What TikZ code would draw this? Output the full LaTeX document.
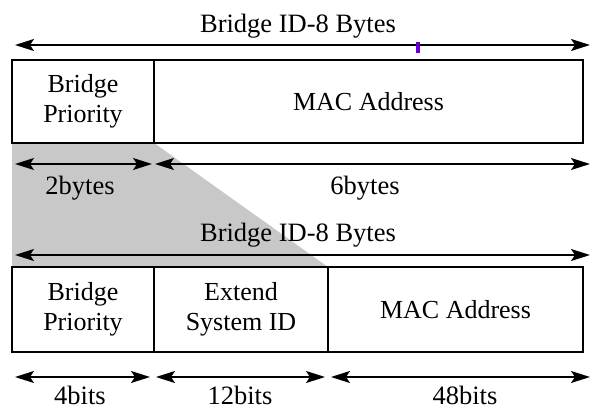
\documentclass[tikz,border=0pt]{standalone}
\usepackage{fontspec}
\setmainfont{Liberation Serif}
\usetikzlibrary{arrows.meta}
\definecolor{wedgegray}{RGB}{200,200,200}
\definecolor{penmark}{RGB}{102,0,204}
\begin{document}
\begin{tikzpicture}[x=1pt,y=-1pt,
  field/.style={rectangle,draw,line width=1.5pt,fill=white,minimum height=83pt,inner sep=0pt,align=center,font=\fontsize{26}{30}\selectfont},
  dim/.style={line width=1.7pt,{Stealth[length=19pt,width=12pt,inset=4pt]}-{Stealth[length=19pt,width=12pt,inset=4pt]}},
  label/.style={inner sep=0pt,anchor=base,font=\fontsize{26.5}{30}\selectfont}]
  \useasboundingbox (0,0) rectangle (610,409);

  % grey wedge between the two layouts
  \fill[wedgegray] (12,143) -- (154,143) -- (328,267) -- (12,267) -- cycle;

  % old layout
  \node[label] at (298,33) (title1) {Bridge ID-8 Bytes};
  \node[field,minimum width=142pt] at (83,101.5) (prio1) {Bridge\\Priority};
  \node[field,minimum width=429pt] at (368.5,101.5) (mac1) {MAC Address};
  \node[label] at (80,194) (len1) {2bytes};
  \node[label] at (365,194) (len2) {6bytes};

  % new layout
  \node[label] at (298,241) (title2) {Bridge ID-8 Bytes};
  \node[field,minimum width=142pt,minimum height=85pt] at (83,309.5) (prio2) {Bridge\\Priority};
  \node[field,minimum width=174pt,minimum height=85pt] at (241,309.5) (ext2) {Extend\\System ID};
  \node[field,minimum width=255pt,minimum height=85pt] at (455.5,309.5) (mac2) {MAC Address};
  \node[label] at (80,404) (len3) {4bits};
  \node[label] at (240,404) (len4) {12bits};
  \node[label] at (465,404) (len5) {48bits};

  \coordinate (t1l) at (15,45);   \coordinate (t1r) at (590,45);
  \coordinate (a1l) at (15,164);  \coordinate (a1r) at (152,164);
  \coordinate (a2l) at (155,164); \coordinate (a2r) at (590,164);
  \coordinate (t2l) at (15,255);  \coordinate (t2r) at (590,255);
  \coordinate (b1l) at (15,377);  \coordinate (b1r) at (150,377);
  \coordinate (b2l) at (156,377); \coordinate (b2r) at (325,377);
  \coordinate (b3l) at (331,377); \coordinate (b3r) at (590,377);

  \path[dim]
    (t1l) edge (t1r)
    (a1l) edge (a1r)
    (a2l) edge (a2r)
    (t2l) edge (t2r)
    (b1l) edge (b1r)
    (b2l) edge (b2r)
    (b3l) edge (b3r);

  \fill[penmark] (416,42) rectangle (420,53);
\end{tikzpicture}
\end{document}
